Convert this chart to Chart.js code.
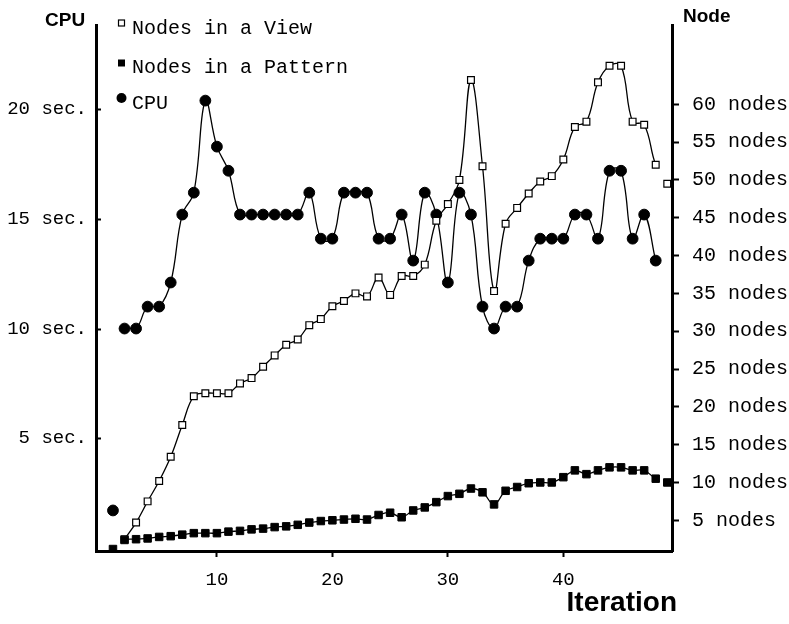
<!DOCTYPE html>
<html>
<head>
<meta charset="utf-8">
<script src="https://cdn.jsdelivr.net/npm/chart.js@4.4.1/dist/chart.umd.min.js"></script>
<style>
  html, body { margin: 0; padding: 0; background: #fff; }
  #wrap { position: relative; width: 789px; height: 624px; }
</style>
</head>
<body>
<div id="wrap"><canvas id="c"></canvas></div>
<script>
// ---- data ----
const iterations = [1,2,3,4,5,6,7,8,9,10,11,12,13,14,15,16,17,18,19,20,21,22,23,24,25,26,27,28,29,30,31,32,33,34,35,36,37,38,39,40,41,42,43,44,45,46,47,48,49];
const cpuSeconds = [1.7,10.0,10.0,11.0,11.0,12.1,15.2,16.2,20.4,18.3,17.2,15.2,15.2,15.2,15.2,15.2,15.2,16.2,14.1,14.1,16.2,16.2,16.2,14.1,14.1,15.2,13.1,16.2,15.2,12.1,16.2,15.2,11.0,10.0,11.0,11.0,13.1,14.1,14.1,14.1,15.2,15.2,14.1,17.2,17.2,14.1,15.2,13.1,null];
const nodesInView = [null,2.5,4.7,7.5,10.2,13.4,17.6,21.4,21.8,21.8,21.8,23.1,23.8,25.3,26.8,28.2,28.9,30.8,31.6,33.3,34.0,35.0,34.6,37.1,34.8,37.3,37.3,38.8,44.6,46.8,50.0,63.2,51.8,35.3,44.2,46.3,48.2,49.8,50.5,52.7,57.0,57.7,62.9,65.1,65.1,57.7,57.3,52.0,49.5];
const nodesInPattern = [1.2,2.4,2.5,2.6,2.8,2.9,3.1,3.3,3.3,3.3,3.5,3.6,3.8,3.9,4.1,4.2,4.4,4.7,4.9,5.0,5.1,5.2,5.1,5.7,6.0,5.4,6.3,6.7,7.4,8.2,8.5,9.2,8.7,7.1,8.9,9.4,9.9,10.0,10.0,10.7,11.6,11.1,11.6,12.0,12.0,11.6,11.6,10.5,10.0];
const iterationTicks = [10,20,30,40];
const cpuTicks = [5,10,15,20];
const nodeTicks = [5,10,15,20,25,30,35,40,45,50,55,60];
const seriesNames = ['Nodes in a View','Nodes in a Pattern','CPU'];

// ---- styling ----
const MONO = "'Liberation Mono', 'Courier New', monospace";
const SANS = "'Liberation Sans', Arial, sans-serif";
const toXY = arr => iterations.map((x, i) => ({ x: x, y: arr[i] }));
// the fitted curves skip the first and last points
const seg = { borderColor: c => (c.p0DataIndex < 1 || c.p1DataIndex > 47) ? 'rgba(0,0,0,0)' : '#000' };
const lineBase = { borderColor: '#000', borderWidth: 1.3, tension: 0.4, spanGaps: false, segment: seg, fill: false };

const decor = {
  id: 'decor',
  afterDraw(chart) {
    const ctx = chart.ctx;
    const a = chart.chartArea;
    const yL = chart.scales.yL;
    ctx.save();
    // inward tick marks on the CPU axis
    ctx.strokeStyle = '#000';
    ctx.lineWidth = 2;
    cpuTicks.forEach(v => {
      const y = Math.round(yL.getPixelForValue(v)) + 0.5;
      ctx.beginPath(); ctx.moveTo(a.left, y); ctx.lineTo(a.left + 5, y); ctx.stroke();
    });
    // axis titles
    ctx.fillStyle = '#000';
    ctx.textBaseline = 'middle';
    ctx.font = 'bold 19px ' + SANS;
    ctx.textAlign = 'left';
    ctx.fillText('CPU', 45, 21);
    ctx.fillText('Node', 683, 17);
    ctx.font = 'bold 28px ' + SANS;
    ctx.textAlign = 'right';
    ctx.fillText('Iteration', 677, 603);
    // legend
    const rows = [
      { name: seriesNames[0], my: 23, ty: 29, kind: 'open' },
      { name: seriesNames[1], my: 63, ty: 68, kind: 'fill' },
      { name: seriesNames[2], my: 98, ty: 104, kind: 'circle' }
    ];
    ctx.font = '20px ' + MONO;
    ctx.textAlign = 'left';
    rows.forEach(r => {
      ctx.lineWidth = 1.2;
      if (r.kind === 'open') {
        ctx.fillStyle = '#fff';
        ctx.fillRect(118.5, r.my - 3, 6, 6);
        ctx.strokeRect(118.5, r.my - 3, 6, 6);
      } else if (r.kind === 'fill') {
        ctx.fillStyle = '#000';
        ctx.fillRect(118, r.my - 3.5, 7, 7);
      } else {
        ctx.fillStyle = '#000';
        ctx.beginPath(); ctx.arc(121.5, r.my, 5, 0, Math.PI * 2); ctx.fill();
      }
      ctx.fillStyle = '#000';
      ctx.fillText(r.name, 132, r.ty);
    });
    ctx.restore();
  }
};

new Chart(document.getElementById('c'), {
  type: 'line',
  data: {
    datasets: [
      Object.assign({}, lineBase, {
        label: seriesNames[1], data: toXY(nodesInPattern), yAxisID: 'yR',
        pointStyle: 'rect', pointRadius: 5.3, pointBackgroundColor: '#000', pointBorderColor: '#000', pointBorderWidth: 1
      }),
      Object.assign({}, lineBase, {
        label: seriesNames[0], data: toXY(nodesInView), yAxisID: 'yR',
        pointStyle: 'rect', pointRadius: 4.8, pointBackgroundColor: '#fff', pointBorderColor: '#000', pointBorderWidth: 1.2
      }),
      Object.assign({}, lineBase, {
        label: seriesNames[2], data: toXY(cpuSeconds), yAxisID: 'yL',
        pointStyle: 'circle', pointRadius: 5.4, pointBackgroundColor: '#000', pointBorderColor: '#000', pointBorderWidth: 1
      })
    ]
  },
  options: {
    responsive: true,
    maintainAspectRatio: false,
    animation: false,
    layout: { padding: { top: 20, left: 0, right: 0, bottom: 0 } },
    plugins: { legend: { display: false }, tooltip: { enabled: false } },
    scales: {
      x: {
        type: 'linear', position: 'bottom', min: -0.47, max: 49.41,
        afterBuildTicks: s => { s.ticks = iterationTicks.map(v => ({ value: v })); },
        afterFit: s => { s.height = 73; },
        border: { display: true, color: '#000', width: 3 },
        grid: { display: true, drawOnChartArea: false, drawTicks: true, tickLength: 6, tickColor: '#000', tickWidth: 2 },
        ticks: { color: '#000', padding: 12, maxRotation: 0, font: { family: MONO, size: 19 }, callback: v => String(v) }
      },
      yL: {
        type: 'linear', position: 'left', min: -0.15, max: 23.85,
        afterBuildTicks: s => { s.ticks = cpuTicks.map(v => ({ value: v })); },
        afterFit: s => { s.width = 96; },
        border: { display: true, color: '#000', width: 3 },
        grid: { display: false, drawTicks: false, tickLength: 0 },
        ticks: { color: '#000', padding: 9, font: { family: MONO, size: 19 }, callback: v => v + ' sec.' }
      },
      yR: {
        type: 'linear', position: 'right', min: 0.94, max: 70.48,
        afterBuildTicks: s => { s.ticks = nodeTicks.map(v => ({ value: v })); },
        afterFit: s => { s.width = 117; },
        border: { display: true, color: '#000', width: 3 },
        grid: { display: true, drawOnChartArea: false, drawTicks: true, tickLength: 7, tickColor: '#000', tickWidth: 2 },
        ticks: { color: '#000', padding: 13, font: { family: MONO, size: 20 }, callback: v => v + ' nodes' }
      }
    }
  },
  plugins: [decor]
});
</script>
</body>
</html>
